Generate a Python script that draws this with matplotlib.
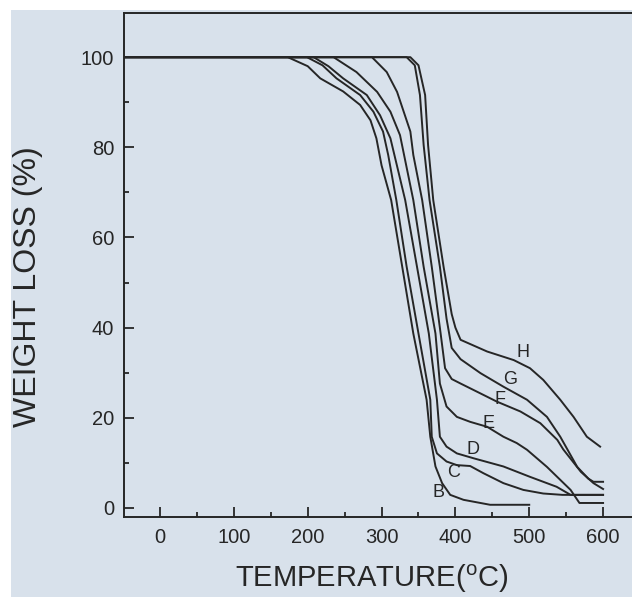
import matplotlib
matplotlib.use('Agg')
import matplotlib.pyplot as plt
from matplotlib.patches import Rectangle
from matplotlib.ticker import MultipleLocator

# TGA curves (temperature in C, weight %)
B_T = [-48, 173, 200, 217, 248, 271, 285, 293, 300, 313, 328, 343, 361, 366, 373, 382, 393, 411, 447, 500]
B_W = [100, 100, 98, 95.3, 92.4, 89.4, 86, 82, 76, 68.3, 53.5, 38.7, 24, 15.8, 9.2, 5.5, 2.9, 1.8, 0.7, 0.7]

C_T = [-48, 199, 220, 239, 271, 289, 302, 309, 320, 334, 350, 366, 368, 375, 388, 402, 420, 438, 465, 492, 519, 545, 600]
C_W = [100, 100, 98.2, 95.3, 91.6, 87.9, 83.5, 78.3, 68.3, 53.5, 38.7, 24, 15.8, 12.1, 10.3, 9.5, 9.3, 7.7, 5.5, 4, 3.2, 2.9, 2.9]

D_T = [-48, 208, 228, 248, 280, 298, 312, 332, 348, 364, 375, 379, 388, 402, 425, 465, 501, 537, 556, 600]
D_W = [100, 100, 98, 95.3, 91.6, 87.1, 82, 68.3, 53.5, 38.7, 24, 15.8, 13.6, 12.1, 11, 9.2, 6.9, 4.7, 2.9, 2.9]

E_T = [-48, 235, 266, 294, 312, 325, 343, 357, 373, 379, 388, 402, 420, 443, 465, 483, 497, 524, 556, 568, 600]
E_W = [100, 100, 96.7, 92.3, 87.9, 82.7, 68.3, 53.5, 38.7, 27.6, 22.5, 20.2, 19.1, 18, 15.8, 14.4, 12.9, 9.1, 4, 1.1, 1.1]

F_T = [-48, 287, 307, 321, 330, 339, 343, 355, 368, 380, 386, 395, 407, 434, 456, 488, 515, 538, 546, 570, 587, 600]
F_W = [100, 100, 96.7, 92.3, 87.9, 83.5, 78.3, 68.3, 53.5, 38.7, 31, 28.6, 27.6, 25.4, 23.6, 21.4, 18.8, 15.1, 13, 8, 5.5, 4.2]

G_T = [-48, 334, 345, 352, 357, 365, 379, 388, 395, 407, 434, 465, 497, 524, 542, 565, 580, 587, 600]
G_W = [100, 100, 98.2, 91.6, 80.5, 68.3, 53.5, 42, 35.5, 33, 29.9, 26.9, 24, 20.2, 15.8, 9.1, 6.5, 5.8, 5.8]

H_T = [-48, 339, 350, 359, 363, 370, 384, 395, 400, 407, 443, 479, 501, 519, 542, 560, 578, 596]
H_W = [100, 100, 98.2, 91.6, 80.5, 68.3, 53.5, 43, 40, 37.3, 34.7, 32.8, 31, 28.4, 24, 20.2, 15.8, 13.6]

curve_names = ['B', 'C', 'D', 'E', 'F', 'G', 'H']
label_T = [377, 397, 424, 445, 461, 474, 492]
label_W = [3.5, 7.8, 12.9, 18.8, 24, 28.4, 34.4]

x_ticks = [0, 100, 200, 300, 400, 500, 600]
y_ticks = [0, 20, 40, 60, 80, 100]

bg = '#d8e1eb'
ink = '#262626'

plt.rcParams['font.family'] = ['Liberation Sans', 'DejaVu Sans']
plt.rcParams['mathtext.fontset'] = 'custom'
plt.rcParams['mathtext.rm'] = 'Liberation Sans'

fig = plt.figure(figsize=(6.32, 5.97), dpi=100)
fig.patch.set_facecolor('white')
# scanned page: white margin on top and left
fig.patches.append(Rectangle((11 / 632, 0), 1, 1 - 10 / 597, transform=fig.transFigure,
                             facecolor=bg, edgecolor='none', zorder=-10))

ax = fig.add_axes([124 / 632, 1 - 516.5 / 597, 516 / 632, 503.5 / 597])
ax.set_facecolor('none')

series = [(B_T, B_W), (C_T, C_W), (D_T, D_W), (E_T, E_W), (F_T, F_W), (G_T, G_W), (H_T, H_W)]
for t, w in series:
    ax.plot(t, w, color=ink, lw=1.4, solid_joinstyle='round')

for name, t, w in zip(curve_names, label_T, label_W):
    ax.text(t, w, name, fontsize=13, color=ink, ha='center', va='center')

ax.set_xlim(-48.8, 650)
ax.set_ylim(-1.9, 109.8)
ax.set_xticks(x_ticks)
ax.set_yticks(y_ticks)
ax.xaxis.set_minor_locator(MultipleLocator(50))
ax.yaxis.set_minor_locator(MultipleLocator(10))
ax.tick_params(which='both', direction='in', colors=ink, width=1.3,
               labelsize=14.5, top=False, right=False)
ax.tick_params(which='major', length=7)
ax.tick_params(which='minor', length=3.5)
ax.tick_params(axis='x', pad=8)
ax.tick_params(axis='y', pad=7)

for s in ['left', 'bottom', 'top']:
    ax.spines[s].set_linewidth(1.4)
    ax.spines[s].set_color(ink)
ax.spines['right'].set_visible(False)

fig.text(28 / 632, 1 - 287 / 597, 'WEIGHT LOSS (%)', rotation=90, fontsize=23,
         color=ink, ha='center', va='center')
fig.text(372 / 632, 1 - 579 / 597, r'TEMPERATURE($^{\mathrm{o}}$C)', fontsize=21,
         color=ink, ha='center', va='center')

fig.savefig('out.png', dpi=100, facecolor=fig.get_facecolor())
